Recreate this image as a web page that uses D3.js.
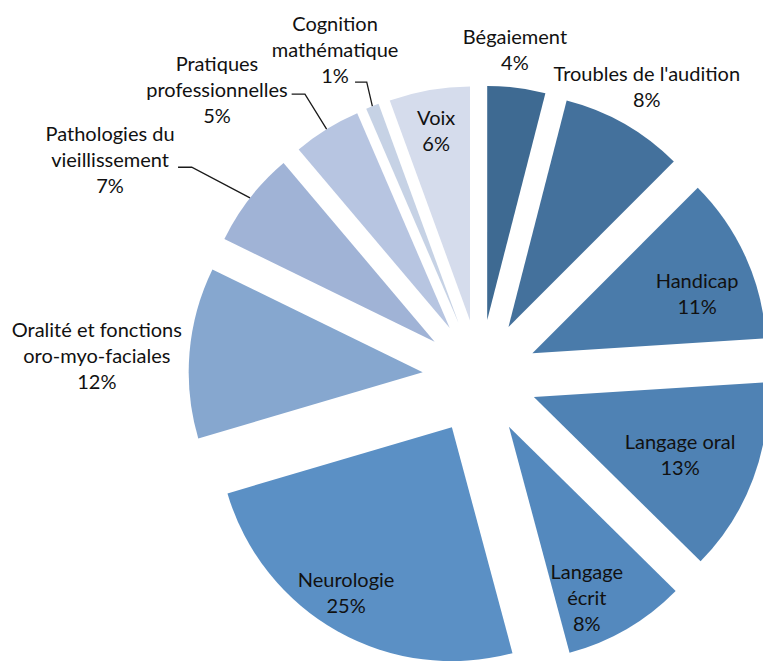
<!DOCTYPE html>
<html>
<head>
<meta charset="utf-8">
<script src="https://cdn.jsdelivr.net/npm/d3@7"></script>
<style>
  html, body { margin: 0; padding: 0; background: #fff; }
  svg { display: block; }
</style>
</head>
<body>
<div id="chart"></div>
<script>
// categories in clockwise order from 12 o'clock
const categories = [
    "Bégaiement", "Troubles de l'audition", "Handicap", "Langage oral", "Langage\nécrit",
    "Neurologie", "Oralité et fonctions\noro-myo-faciales", "Pathologies du\nvieillissement",
    "Pratiques\nprofessionnelles", "Cognition\nmathématique", "Voix"
];
const values = [4.0, 8.49, 11.49, 13.4, 8.45, 24.6, 11.8, 6.6, 4.7, 0.9, 5.57];
const colors = [
    "#3e6a92", "#44719c", "#4a7baa", "#4f82b4", "#5489be",
    "#5b90c5", "#86a7cf", "#a0b3d6", "#b7c5e1", "#c6d2e5", "#d5dcec"
];

// label placement: [distance from pie centre in radii, angle in degrees clockwise from top]
const labelPolar = [
    [1.405, 6.1], [1.43, 29.9], [0.993, 69.1], [0.918, 111.3], [1.049, 154.2],
    [1.086, 211.8], [1.64, 273.1], [1.833, 300.4], [1.664, 317.5], [1.529, 336.1], [1.068, 349.9]
];
// leader lines: horizontal stub relative to label centre [dx start, dy, stub length]
const leaders = {
    7: [68, 7.3, 13.7],
    8: [74.7, 4.3, 13.3],
    9: [20, 32.3, 11.7]
};

const width = 763, height = 661;
const cx = 480, cy = 377;
const radius = 234;
const explode = 57.5;

const svg = d3.select("#chart").append("svg")
    .attr("width", width)
    .attr("height", height);

const g = svg.append("g").attr("transform", `translate(${cx},${cy})`);

const data = categories.map((c, i) => ({ name: c, value: values[i], color: colors[i] }));
const total = d3.sum(values);

const pie = d3.pie().sort(null).value(d => d.value).startAngle(0).endAngle(2 * Math.PI);
const arcs = pie(data);
const arc = d3.arc().innerRadius(0).outerRadius(radius);

const polar = (r, a) => [r * Math.sin(a), -r * Math.cos(a)];

arcs.forEach(a => {
    const mid = (a.startAngle + a.endAngle) / 2;
    a.offset = polar(explode, mid);
    a.mid = mid;
});

g.append("g").selectAll("path").data(arcs).join("path")
    .attr("transform", d => `translate(${d.offset[0]},${d.offset[1]})`)
    .attr("d", arc)
    .attr("fill", d => d.data.color);

// leader lines
arcs.forEach((a, i) => {
    if (!leaders[i]) return;
    const [lr, la] = labelPolar[i];
    const [lx, ly] = polar(lr * radius, la * Math.PI / 180);
    const [dx, dy, len] = leaders[i];
    const edge = polar(radius, a.mid);
    const pts = [
        [lx + dx, ly + dy],
        [lx + dx + len, ly + dy],
        [a.offset[0] + edge[0], a.offset[1] + edge[1]]
    ];
    g.append("path")
        .attr("d", d3.line()(pts))
        .attr("fill", "none")
        .attr("stroke", "#1a1a1a")
        .attr("stroke-width", 1.3);
});

// labels
const lineH = 26;
const labels = g.append("g")
    .attr("font-family", "Lato, 'Open Sans', sans-serif")
    .attr("font-size", "20px")
    .attr("fill", "#111")
    .attr("text-anchor", "middle");

arcs.forEach((a, i) => {
    const [lr, la] = labelPolar[i];
    const [lx, ly] = polar(lr * radius, la * Math.PI / 180);
    const lines = a.data.name.split("\n").concat([Math.round(a.data.value / total * 100) + "%"]);
    const t = labels.append("text")
        .attr("x", lx)
        .attr("y", ly - (lines.length - 1) * lineH / 2 + 7);
    lines.forEach((s, k) => {
        t.append("tspan").attr("x", lx).attr("dy", k === 0 ? 0 : lineH).text(s);
    });
});
</script>
</body>
</html>
